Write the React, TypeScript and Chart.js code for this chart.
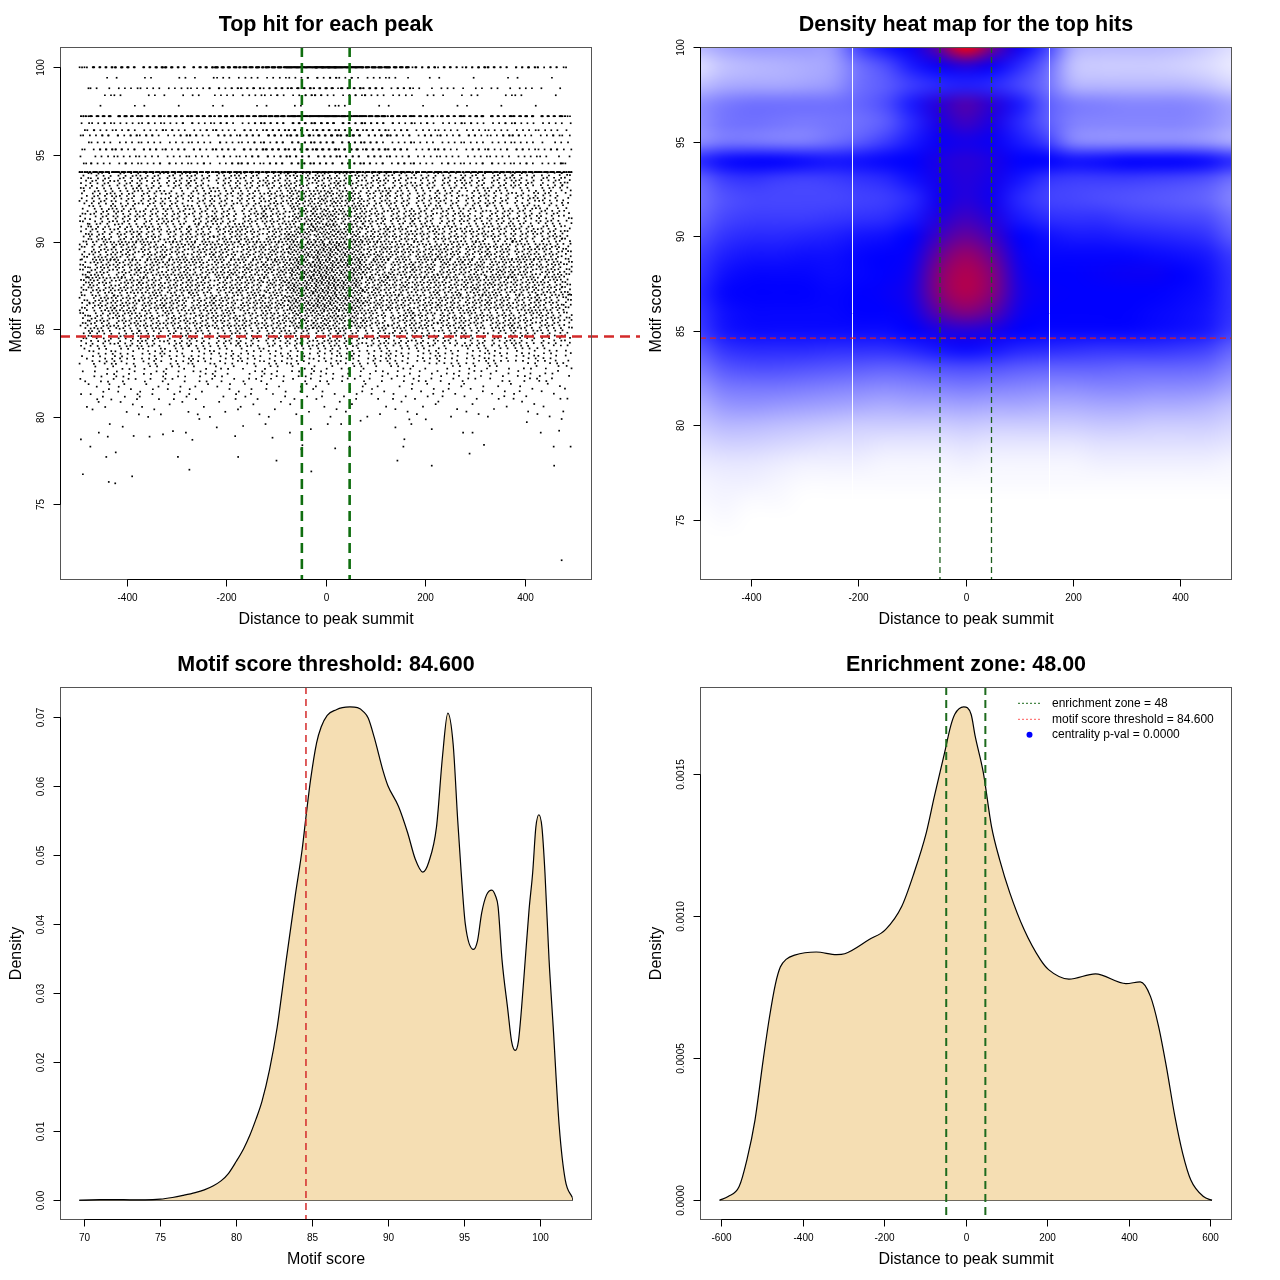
import React, { useEffect, useRef } from "react";
import { Chart, registerables } from "chart.js";

Chart.register(...registerables);

const FONT = "'Liberation Sans', Arial, Helvetica, sans-serif";

// ---------- shared values ----------
const enrichmentZone = 48;
const scoreThreshold = 84.6;
const distTicks = [-400, -200, 0, 200, 400];
const distTickLabels = ["-400", "-200", "0", "200", "400"];
const scoreTicks = [75, 80, 85, 90, 95, 100];
const scoreTickLabels = ["75", "80", "85", "90", "95", "100"];

// ---------- panel 1: top hit for each peak ----------
// sparse hits below score 80, read point by point
const lowHitX = [-492, -473, -488, -456, -441, -436, -423, -422, -438, -434, -408, -389, -386, -354, -327, -307, -297, -281, -274, -268, -254, -219, -182, -176, -166, -121, -107, -99, -72, -49, -47, -29, -30, 4, 19, 31, 48, 70, 140, 144, 158, 156, 168, 172, 201, 213, 213, 276, 295, 289, 318, 404, 432, 458, 459, 469, 474, 492, 474];
const lowHitY = [78.72, 78.3, 76.72, 79.1, 77.71, 76.28, 76.2, 77.97, 78.87, 79.59, 79.44, 76.6, 78.91, 78.87, 79.0, 79.19, 77.71, 79.1, 76.98, 78.69, 79.88, 79.4, 78.9, 77.71, 79.48, 79.59, 78.81, 77.5, 79.1, 78.15, 78.38, 76.88, 79.3, 79.59, 78.2, 79.59, 78.3, 79.78, 79.4, 77.5, 78.72, 78.3, 79.86, 79.59, 79.86, 79.3, 77.21, 79.1, 79.1, 77.9, 78.4, 79.7, 79.1, 78.3, 77.21, 79.21, 79.88, 78.3, 71.8];
// dense part: number of hits per one-unit score bin (continuous scores)
const scoreBinStart = [80, 81, 82, 83, 84, 85, 86, 87, 88, 89, 90, 91, 92, 93];
const scoreBinCount = [60, 120, 200, 330, 490, 690, 780, 800, 800, 750, 670, 600, 560, 550];
// discrete score levels above 94 and their hit counts
const scoreLevels = [100, 99.4, 98.8, 98.4, 97.8, 97.2, 96.8, 96.4, 96.1, 95.7, 95.3, 94.9, 94.5, 94.0];
const scoreLevelCount = [460, 50, 120, 60, 18, 520, 125, 115, 150, 100, 170, 100, 115, 720];
const hitXLimit = 495;

// ---------- panel 2: density heat map (0 white, 50 blue, 100 red) ----------
const heatX = [-500, -450, -400, -350, -300, -250, -200, -150, -100, -50, 0, 50, 100, 150, 200, 250, 300, 350, 400, 450, 500];
const heatY = [100, 99, 98, 97, 96, 95, 94, 93, 92, 91, 90, 89, 88, 87, 86, 85, 84, 83, 82, 81, 80, 79, 78, 77, 76, 75, 74, 73, 72];
const heatRows = [
  [14, 18, 20, 20, 20, 20, 37, 46, 52, 70, 100, 72, 52, 38, 16, 14, 14, 14, 13, 10, 6],
  [6, 12, 14, 15, 16, 18, 28, 35, 45, 52, 57, 52, 42, 30, 12, 10, 10, 10, 9, 7, 4],
  [12, 16, 17, 17, 18, 20, 28, 32, 38, 42, 44, 42, 36, 28, 15, 14, 14, 14, 14, 12, 8],
  [22, 26, 28, 28, 28, 28, 30, 35, 45, 58, 66, 58, 45, 32, 26, 25, 24, 24, 24, 22, 18],
  [22, 27, 28, 27, 26, 27, 28, 32, 42, 55, 62, 55, 42, 32, 25, 24, 24, 24, 24, 22, 18],
  [22, 26, 26, 25, 25, 28, 32, 38, 45, 52, 54, 52, 45, 38, 24, 22, 22, 22, 22, 20, 16],
  [42, 48, 50, 50, 48, 46, 47, 49, 50, 55, 58, 55, 50, 50, 47, 48, 50, 50, 50, 48, 42],
  [30, 38, 40, 38, 37, 38, 40, 42, 47, 54, 57, 54, 46, 40, 38, 38, 38, 37, 36, 34, 28],
  [28, 34, 36, 36, 36, 36, 37, 38, 42, 53, 57, 53, 42, 37, 36, 35, 34, 33, 32, 30, 24],
  [30, 36, 38, 38, 38, 39, 40, 41, 45, 56, 62, 56, 45, 41, 40, 40, 38, 37, 36, 35, 28],
  [34, 40, 42, 42, 43, 44, 46, 47, 50, 62, 70, 62, 50, 47, 45, 45, 44, 43, 42, 40, 32],
  [38, 44, 46, 46, 47, 47, 49, 50, 52, 70, 80, 70, 52, 49, 49, 49, 49, 48, 47, 45, 38],
  [40, 47, 49, 49, 49, 48, 49, 50, 54, 76, 85, 76, 54, 50, 50, 51, 52, 52, 50, 47, 40],
  [42, 49, 50, 50, 50, 49, 50, 51, 55, 76, 85, 76, 55, 51, 50, 50, 50, 50, 49, 47, 40],
  [40, 47, 49, 49, 49, 49, 50, 50, 53, 68, 76, 68, 53, 50, 50, 50, 50, 49, 48, 46, 40],
  [38, 46, 48, 48, 48, 48, 48, 48, 50, 55, 57, 55, 50, 49, 49, 49, 49, 48, 47, 45, 38],
  [32, 40, 42, 42, 42, 41, 41, 41, 43, 46, 48, 46, 43, 42, 41, 40, 40, 40, 39, 37, 30],
  [26, 33, 35, 35, 34, 33, 32, 31, 32, 34, 35, 34, 32, 31, 31, 31, 30, 30, 30, 29, 24],
  [20, 26, 27, 27, 26, 25, 24, 23, 24, 25, 26, 25, 24, 23, 23, 24, 24, 23, 23, 22, 18],
  [15, 20, 21, 20, 19, 18, 17, 16, 17, 17, 18, 17, 17, 16, 16, 17, 17, 16, 16, 15, 12],
  [11, 14, 14, 13, 12, 11, 10, 10, 10, 10, 11, 10, 10, 10, 10, 11, 11, 10, 10, 10, 8],
  [7, 9, 9, 8, 7, 6, 6, 5, 5, 5, 6, 5, 5, 5, 5, 6, 6, 6, 6, 6, 5],
  [4, 5, 5, 4, 3, 3, 3, 2, 2, 2, 3, 2, 2, 2, 2, 3, 3, 3, 3, 3, 2],
  [2, 3, 3, 2, 1, 1, 1, 1, 1, 1, 1, 1, 1, 1, 1, 1, 1, 1, 1, 1, 1],
  [1, 2, 1, 1, 0, 0, 0, 0, 0, 0, 0, 0, 0, 0, 0, 0, 0, 0, 0, 0, 0],
  [0, 1, 0, 0, 0, 0, 0, 0, 0, 0, 0, 0, 0, 0, 0, 0, 0, 0, 0, 0, 0],
  [0, 0, 0, 0, 0, 0, 0, 0, 0, 0, 0, 0, 0, 0, 0, 0, 0, 0, 0, 0, 0],
  [0, 0, 0, 0, 0, 0, 0, 0, 0, 0, 0, 0, 0, 0, 0, 0, 0, 0, 0, 0, 0],
  [0, 0, 0, 0, 0, 0, 0, 0, 0, 0, 0, 0, 0, 0, 0, 0, 0, 0, 0, 0, 0],
];
const heatSeams = [-212, 155];

// ---------- panel 3: motif score density ----------
const scoreDensityX = [69.66, 71.0, 72.0, 73.0, 74.0, 75.0, 75.8, 76.5, 77.3, 77.9, 78.5, 79.0, 79.5, 80.0, 80.5, 80.9, 81.3, 81.7, 82.2, 82.7, 83.0, 83.3, 83.9, 84.35, 84.6, 84.9, 85.3, 85.6, 86.0, 86.6, 87.0, 87.5, 88.0, 88.4, 88.7, 89.1, 89.7, 90.0, 90.7, 91.3, 91.8, 92.3, 92.7, 93.2, 93.6, 93.95, 94.3, 94.6, 94.83, 95.1, 95.64, 95.9, 96.18, 96.5, 96.85, 97.1, 97.26, 97.52, 97.9, 98.15, 98.39, 98.6, 98.8, 99.05, 99.3, 99.54, 99.75, 99.95, 100.15, 100.35, 100.62, 100.89, 101.29, 101.69, 102.15];
const scoreDensityY = [0, 0.00008, 0.0001, 0.00006, 0.00005, 0.00015, 0.0004, 0.0007, 0.0011, 0.0015, 0.0021, 0.0028, 0.0039, 0.0056, 0.0075, 0.0094, 0.0117, 0.0143, 0.0189, 0.025, 0.0298, 0.0348, 0.0442, 0.0508, 0.0555, 0.0608, 0.0662, 0.0685, 0.0702, 0.071, 0.0713, 0.0714, 0.0713, 0.0707, 0.0698, 0.067, 0.062, 0.06, 0.057, 0.0532, 0.0494, 0.0475, 0.049, 0.054, 0.0643, 0.0705, 0.066, 0.055, 0.0474, 0.04, 0.0363, 0.0375, 0.0416, 0.0442, 0.0449, 0.044, 0.0425, 0.0348, 0.0276, 0.023, 0.0217, 0.023, 0.0276, 0.0348, 0.042, 0.0474, 0.054, 0.0558, 0.054, 0.0474, 0.0348, 0.0252, 0.0107, 0.0029, 0.0004];
const scoreAxisTicks = [70, 75, 80, 85, 90, 95, 100];
const scoreAxisTickLabels = ["70", "75", "80", "85", "90", "95", "100"];
const scoreDensityTicks = [0, 0.01, 0.02, 0.03, 0.04, 0.05, 0.06, 0.07];
const scoreDensityTickLabels = ["0.00", "0.01", "0.02", "0.03", "0.04", "0.05", "0.06", "0.07"];

// ---------- panel 4: distance density ----------
const distDensityX = [-604, -583, -556, -537, -517, -497, -482, -467, -455, -440, -420, -367, -317, -297, -237, -197, -157, -127, -97, -77, -52, -37, -27, -5, 13, 23, 43, 63, 83, 108, 143, 183, 203, 253, 318, 393, 428, 453, 473, 492, 513, 532, 552, 583, 604];
const distDensityY = [0, 0.000013, 0.000048, 0.000142, 0.000283, 0.000494, 0.00064, 0.00076, 0.00082, 0.000848, 0.000862, 0.000873, 0.000864, 0.000867, 0.000917, 0.000952, 0.001034, 0.001151, 0.001292, 0.001421, 0.001574, 0.001668, 0.001709, 0.001735, 0.001709, 0.001632, 0.001504, 0.001315, 0.001198, 0.001081, 0.000952, 0.000846, 0.000811, 0.000778, 0.000796, 0.000762, 0.000768, 0.000717, 0.000611, 0.00047, 0.000294, 0.000165, 0.000071, 0.000013, 0];
const wideDistTicks = [-600, -400, -200, 0, 200, 400, 600];
const wideDistTickLabels = ["-600", "-400", "-200", "0", "200", "400", "600"];
const distDensityTicks = [0, 0.0005, 0.001, 0.0015];
const distDensityTickLabels = ["0.0000", "0.0005", "0.0010", "0.0015"];
const legendLabels = ["enrichment zone = 48", "motif score threshold = 84.600", "centrality p-val = 0.0000"];

// ---------- helpers ----------
type FrameCfg = {
  title: string;
  xLabel: string;
  yLabel: string;
  xTicks: number[];
  xTickLabels: string[];
  yTicks: number[];
  yTickLabels: string[];
};

type RefLine = { axis: "x" | "y"; value: number; color: string; width: number; dash: number[]; toEdge?: boolean };

function framePlugin(cfg: FrameCfg) {
  return {
    id: "frame",
    afterDraw(chart: any) {
      const ctx = chart.ctx as CanvasRenderingContext2D;
      const a = chart.chartArea;
      const xs = chart.scales.x;
      const ys = chart.scales.y;
      ctx.save();
      ctx.setLineDash([]);
      ctx.strokeStyle = "#555";
      ctx.lineWidth = 1;
      ctx.strokeRect(Math.round(a.left) + 0.5, Math.round(a.top) + 0.5, Math.round(a.right - a.left) - 1, Math.round(a.bottom - a.top) - 1);
      ctx.strokeStyle = "#000";
      const by = Math.round(a.bottom) - 0.5;
      const xp = cfg.xTicks.map((v) => Math.round(xs.getPixelForValue(v)) + 0.5);
      ctx.beginPath();
      ctx.moveTo(xp[0], by);
      ctx.lineTo(xp[xp.length - 1], by);
      xp.forEach((p) => {
        ctx.moveTo(p, by);
        ctx.lineTo(p, by + 7);
      });
      ctx.stroke();
      const lx = Math.round(a.left) + 0.5;
      const yp = cfg.yTicks.map((v) => Math.round(ys.getPixelForValue(v)) + 0.5);
      ctx.beginPath();
      ctx.moveTo(lx, yp[0]);
      ctx.lineTo(lx, yp[yp.length - 1]);
      yp.forEach((p) => {
        ctx.moveTo(lx, p);
        ctx.lineTo(lx - 7, p);
      });
      ctx.stroke();
      ctx.fillStyle = "#000";
      ctx.font = `10px ${FONT}`;
      ctx.textAlign = "center";
      ctx.textBaseline = "middle";
      xp.forEach((p, i) => ctx.fillText(cfg.xTickLabels[i], p, a.bottom + 18));
      yp.forEach((p, i) => {
        ctx.save();
        ctx.translate(a.left - 19, p);
        ctx.rotate(-Math.PI / 2);
        ctx.fillText(cfg.yTickLabels[i], 0, 0);
        ctx.restore();
      });
      const cx = (a.left + a.right) / 2;
      ctx.font = `bold 21.5px ${FONT}`;
      ctx.fillText(cfg.title, cx, a.top - 22);
      ctx.font = `16px ${FONT}`;
      ctx.fillText(cfg.xLabel, cx, a.bottom + 40);
      ctx.save();
      ctx.translate(17, (a.top + a.bottom) / 2);
      ctx.rotate(-Math.PI / 2);
      ctx.fillText(cfg.yLabel, 0, 0);
      ctx.restore();
      ctx.restore();
    },
  };
}

function refLinePlugin(lines: RefLine[]) {
  return {
    id: "reflines",
    afterDatasetsDraw(chart: any) {
      const ctx = chart.ctx as CanvasRenderingContext2D;
      const a = chart.chartArea;
      ctx.save();
      lines.forEach((l) => {
        ctx.strokeStyle = l.color;
        ctx.lineWidth = l.width;
        ctx.setLineDash(l.dash);
        ctx.beginPath();
        if (l.axis === "x") {
          const p = chart.scales.x.getPixelForValue(l.value);
          ctx.moveTo(p, a.top);
          ctx.lineTo(p, a.bottom);
        } else {
          const p = chart.scales.y.getPixelForValue(l.value);
          ctx.moveTo(a.left, p);
          ctx.lineTo(l.toEdge ? chart.width : a.right, p);
        }
        ctx.stroke();
      });
      ctx.restore();
    },
  };
}

function axesCfg(xmin: number, xmax: number, ymin: number, ymax: number) {
  const common = {
    type: "linear",
    ticks: { display: false },
    grid: { display: false },
    border: { display: false },
  };
  return {
    x: { ...common, min: xmin, max: xmax, afterFit: (s: any) => { s.height = 60; } },
    y: { ...common, min: ymin, max: ymax, afterFit: (s: any) => { s.width = 60; } },
  };
}

const baseOptions = {
  responsive: false,
  animation: false,
  events: [],
  layout: { padding: { left: 0, top: 47, right: 48, bottom: 0 } },
  plugins: { legend: { display: false }, tooltip: { enabled: false }, title: { display: false } },
};

function rampColor(v: number): [number, number, number] {
  const t = Math.max(0, Math.min(1, v / 100));
  if (t <= 0.5) {
    const c = Math.round(255 * (1 - t / 0.5));
    return [c, c, 255];
  }
  const k = (t - 0.5) / 0.5;
  return [Math.round(255 * k), 0, Math.round(255 * (1 - k))];
}

// split a count of hits over the heat-map x cells of the matching score rows
function cellShares(weights: number[], count: number) {
  const half = (heatX[1] - heatX[0]) / 2;
  const cells = heatX.map((x, j) => {
    const lo = Math.max(-hitXLimit, x - half);
    const hi = Math.min(hitXLimit, x + half);
    return { lo, hi, mass: Math.max(weights[j], 0.5) * Math.max(0, hi - lo) };
  });
  const total = cells.reduce((s, c) => s + c.mass, 0);
  return cells.map((c) => ({ lo: c.lo, hi: c.hi, n: Math.round((count * c.mass) / total) }));
}

function rowWeights(y: number) {
  const r = Math.max(0, Math.min(heatRows.length - 1, heatY[0] - y));
  const r0 = Math.floor(r);
  const r1 = Math.min(heatRows.length - 1, r0 + 1);
  const f = r - r0;
  return heatRows[r0].map((w, j) => w * (1 - f) + heatRows[r1][j] * f);
}

function buildHits() {
  const a1 = 0.7548776662466927;
  const a2 = 0.5698402909980532;
  const frac = (v: number) => v - Math.floor(v);
  const pts: { x: number; y: number }[] = [];
  lowHitX.forEach((x, i) => pts.push({ x, y: lowHitY[i] }));
  scoreBinStart.forEach((s, b) => {
    cellShares(rowWeights(s + 0.5), scoreBinCount[b]).forEach((c, j) => {
      const o1 = frac(j * 0.6180339887 + b * 0.4142135624);
      const o2 = frac(j * 0.2871 + b * 0.7329);
      for (let i = 0; i < c.n; i++) {
        const u = frac(o1 + a1 * (i + 1));
        const v = frac(o2 + a2 * (i + 1));
        pts.push({ x: c.lo + u * (c.hi - c.lo), y: s + v });
      }
    });
  });
  scoreLevels.forEach((lvl, k) => {
    cellShares(rowWeights(lvl), scoreLevelCount[k]).forEach((c, j) => {
      const o1 = frac(j * 0.3819660113 + k * 0.5773502692);
      for (let i = 0; i < c.n; i++) {
        const u = frac(o1 + a1 * (i + 1));
        pts.push({ x: c.lo + u * (c.hi - c.lo), y: lvl });
      }
    });
  });
  return pts;
}

// ---------- chart builders ----------
function makeScatter(canvas: HTMLCanvasElement) {
  return new Chart(canvas, {
    type: "scatter",
    data: {
      datasets: [
        {
          data: buildHits(),
          pointStyle: "rect",
          pointRadius: 1.2,
          pointBorderWidth: 0,
          backgroundColor: "#000",
          borderWidth: 0,
        } as any,
      ],
    },
    options: { ...baseOptions, scales: axesCfg(-534, 535, 70.67, 101.16) } as any,
    plugins: [
      refLinePlugin([
        { axis: "x", value: -enrichmentZone, color: "#0f6e0f", width: 2.6, dash: [10, 6] },
        { axis: "x", value: enrichmentZone, color: "#0f6e0f", width: 2.6, dash: [10, 6] },
        { axis: "y", value: scoreThreshold, color: "#d42a2a", width: 2.4, dash: [10, 6], toEdge: true },
      ]),
      framePlugin({
        title: "Top hit for each peak",
        xLabel: "Distance to peak summit",
        yLabel: "Motif score",
        xTicks: distTicks,
        xTickLabels: distTickLabels,
        yTicks: scoreTicks,
        yTickLabels: scoreTickLabels,
      }),
    ] as any,
  });
}

const heatPlugin = {
  id: "heat",
  beforeDatasetsDraw(chart: any) {
    const ctx = chart.ctx as CanvasRenderingContext2D;
    const a = chart.chartArea;
    const xs = chart.scales.x;
    const ys = chart.scales.y;
    const W = heatX.length;
    const H = heatY.length;
    const off = document.createElement("canvas");
    off.width = W;
    off.height = H;
    const octx = off.getContext("2d")!;
    const img = octx.createImageData(W, H);
    for (let r = 0; r < H; r++) {
      for (let c = 0; c < W; c++) {
        const [R, G, B] = rampColor(heatRows[r][c]);
        const k = (r * W + c) * 4;
        img.data[k] = R;
        img.data[k + 1] = G;
        img.data[k + 2] = B;
        img.data[k + 3] = 255;
      }
    }
    octx.putImageData(img, 0, 0);
    const dx = heatX[1] - heatX[0];
    const dy = heatY[0] - heatY[1];
    const x0 = xs.getPixelForValue(heatX[0] - dx / 2);
    const x1 = xs.getPixelForValue(heatX[W - 1] + dx / 2);
    const y0 = ys.getPixelForValue(heatY[0] + dy / 2);
    const y1 = ys.getPixelForValue(heatY[H - 1] - dy / 2);
    ctx.save();
    ctx.beginPath();
    ctx.rect(a.left, a.top, a.right - a.left, a.bottom - a.top);
    ctx.clip();
    ctx.imageSmoothingEnabled = true;
    (ctx as any).imageSmoothingQuality = "high";
    ctx.drawImage(off, x0, y0, x1 - x0, y1 - y0);
    ctx.strokeStyle = "rgba(255,255,255,0.95)";
    ctx.lineWidth = 1;
    heatSeams.forEach((s) => {
      const p = Math.round(xs.getPixelForValue(s)) + 0.5;
      ctx.beginPath();
      ctx.moveTo(p, a.top);
      ctx.lineTo(p, a.bottom);
      ctx.stroke();
    });
    ctx.restore();
  },
};

function makeHeat(canvas: HTMLCanvasElement) {
  return new Chart(canvas, {
    type: "scatter",
    data: { datasets: [{ data: [] }] },
    options: { ...baseOptions, scales: axesCfg(-495, 496, 71.8, 100) } as any,
    plugins: [
      heatPlugin,
      refLinePlugin([
        { axis: "y", value: scoreThreshold, color: "#dd2020", width: 1.2, dash: [6, 4] },
        { axis: "x", value: -enrichmentZone, color: "#1d5e1d", width: 1.3, dash: [6, 4] },
        { axis: "x", value: enrichmentZone, color: "#1d5e1d", width: 1.3, dash: [6, 4] },
      ]),
      framePlugin({
        title: "Density heat map for the top hits",
        xLabel: "Distance to peak summit",
        yLabel: "Motif score",
        xTicks: distTicks,
        xTickLabels: distTickLabels,
        yTicks: scoreTicks,
        yTickLabels: scoreTickLabels,
      }),
    ] as any,
  });
}

function densityDatasets(xsArr: number[], ysArr: number[]) {
  const first = xsArr[0];
  const last = xsArr[xsArr.length - 1];
  return [
    {
      data: xsArr.map((x, i) => ({ x, y: ysArr[i] })),
      borderColor: "#000",
      borderWidth: 1.2,
      backgroundColor: "#F5DEB3",
      fill: "origin",
      pointRadius: 0,
      cubicInterpolationMode: "monotone",
    },
    {
      data: [
        { x: first, y: 0 },
        { x: last, y: 0 },
        { x: last, y: ysArr[ysArr.length - 1] },
      ],
      borderColor: "#000",
      borderWidth: 1.2,
      pointRadius: 0,
      fill: false,
      tension: 0,
    },
  ];
}

function makeScoreDensity(canvas: HTMLCanvasElement) {
  return new Chart(canvas, {
    type: "line",
    data: { datasets: densityDatasets(scoreDensityX, scoreDensityY) as any },
    options: { ...baseOptions, scales: axesCfg(68.39, 103.45, -0.00286, 0.07429) } as any,
    plugins: [
      refLinePlugin([{ axis: "x", value: scoreThreshold, color: "#d42a2a", width: 1.5, dash: [7, 5] }]),
      framePlugin({
        title: "Motif score threshold: 84.600",
        xLabel: "Motif score",
        yLabel: "Density",
        xTicks: scoreAxisTicks,
        xTickLabels: scoreAxisTickLabels,
        yTicks: scoreDensityTicks,
        yTickLabels: scoreDensityTickLabels,
      }),
    ] as any,
  });
}

const legendPlugin = {
  id: "enrichLegend",
  afterDraw(chart: any) {
    const ctx = chart.ctx as CanvasRenderingContext2D;
    const a = chart.chartArea;
    const sx0 = a.right - 214;
    const sx1 = a.right - 191;
    const tx = a.right - 180;
    const rows = [a.top + 16.3, a.top + 32.3, a.top + 47.7];
    ctx.save();
    ctx.lineWidth = 1;
    ctx.setLineDash([2, 2]);
    ctx.strokeStyle = "#1d6b1d";
    ctx.beginPath();
    ctx.moveTo(sx0, rows[0]);
    ctx.lineTo(sx1, rows[0]);
    ctx.stroke();
    ctx.strokeStyle = "#ff5a5a";
    ctx.beginPath();
    ctx.moveTo(sx0, rows[1]);
    ctx.lineTo(sx1, rows[1]);
    ctx.stroke();
    ctx.setLineDash([]);
    ctx.fillStyle = "#0000ff";
    ctx.beginPath();
    ctx.arc((sx0 + sx1) / 2, rows[2], 3, 0, Math.PI * 2);
    ctx.fill();
    ctx.fillStyle = "#000";
    ctx.font = `12px ${FONT}`;
    ctx.textAlign = "left";
    ctx.textBaseline = "middle";
    legendLabels.forEach((t, i) => ctx.fillText(t, tx, rows[i]));
    ctx.restore();
  },
};

function makeDistDensity(canvas: HTMLCanvasElement) {
  return new Chart(canvas, {
    type: "line",
    data: { datasets: densityDatasets(distDensityX, distDensityY) as any },
    options: { ...baseOptions, scales: axesCfg(-652, 653, -0.0000694, 0.001805) } as any,
    plugins: [
      refLinePlugin([
        { axis: "x", value: -enrichmentZone, color: "#1d6b1d", width: 2, dash: [8, 5] },
        { axis: "x", value: enrichmentZone, color: "#1d6b1d", width: 2, dash: [8, 5] },
      ]),
      legendPlugin,
      framePlugin({
        title: "Enrichment zone: 48.00",
        xLabel: "Distance to peak summit",
        yLabel: "Density",
        xTicks: wideDistTicks,
        xTickLabels: wideDistTickLabels,
        yTicks: distDensityTicks,
        yTickLabels: distDensityTickLabels,
      }),
    ] as any,
  });
}

function ChartPanel({ left, top, make }: { left: number; top: number; make: (c: HTMLCanvasElement) => Chart }) {
  const ref = useRef<HTMLCanvasElement>(null);
  useEffect(() => {
    const chart = make(ref.current!);
    return () => chart.destroy();
  }, [make]);
  return (
    <canvas
      ref={ref}
      width={640}
      height={640}
      style={{ position: "absolute", left, top, width: 640, height: 640, display: "block" }}
    />
  );
}

export default function App() {
  return (
    <div style={{ position: "absolute", left: 0, top: 0, width: 1280, height: 1280, background: "#fff" }}>
      <ChartPanel left={0} top={0} make={makeScatter} />
      <ChartPanel left={640} top={0} make={makeHeat} />
      <ChartPanel left={0} top={640} make={makeScoreDensity} />
      <ChartPanel left={640} top={640} make={makeDistDensity} />
    </div>
  );
}
